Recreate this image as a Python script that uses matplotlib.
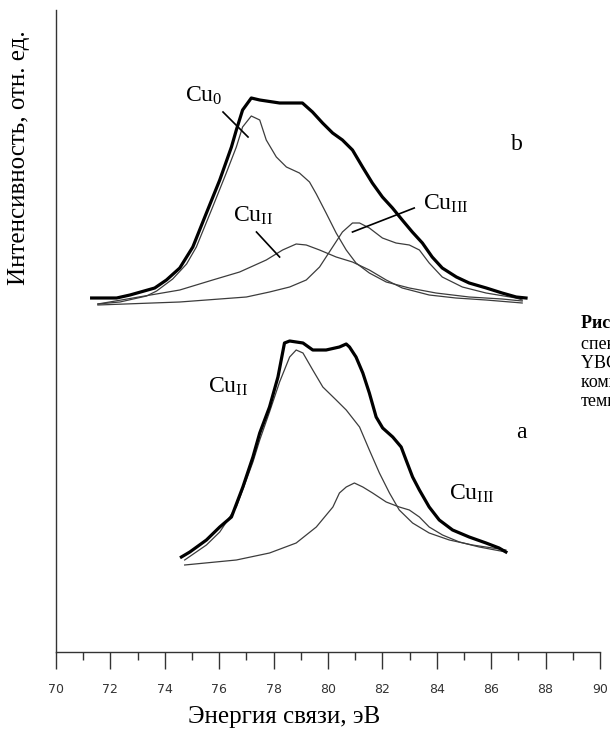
import numpy as np
import matplotlib.pyplot as plt

plt.rcParams['font.family'] = ['Liberation Serif', 'DejaVu Serif']
plt.rcParams['mathtext.fontset'] = 'custom'
plt.rcParams['mathtext.rm'] = 'Liberation Serif'
plt.rcParams['mathtext.it'] = 'Liberation Serif:italic'

# Spectrum b: envelope and fitted components (binding energy, eV / intensity, arb. units)
e_b_total = [71.31, 72.23, 72.72, 73.63, 74.06, 74.55, 75.03, 75.53, 76.02, 76.45, 76.63, 76.86,
             77.18, 77.49, 78.22, 79.06, 79.43, 79.80, 80.17, 80.53, 80.90, 81.27, 81.63, 82.00,
             82.37, 82.73, 83.10, 83.47, 83.83, 84.20, 84.72, 85.19, 85.82, 86.40, 86.92, 87.28]
i_b_total = [354, 354, 357, 364, 372, 384, 405, 439, 472, 505, 522, 542,
             554, 552, 549, 549, 540, 529, 519, 512, 502, 485, 469, 455,
             444, 432, 420, 409, 395, 384, 375, 369, 364, 359, 355, 354]

e_b_cu0 = [71.54, 72.35, 73.33, 73.70, 74.29, 74.80, 75.16, 75.76, 76.26, 76.63, 76.86, 77.18,
           77.49, 77.73, 78.10, 78.47, 78.95, 79.32, 79.57, 79.93, 80.30, 80.67, 81.03, 81.52,
           82.14, 82.99, 83.97, 85.19, 86.40, 87.14]
i_b_cu0 = [348, 350, 356, 361, 373, 388, 405, 445, 479, 505, 525, 536,
           532, 512, 495, 485, 479, 470, 458, 439, 419, 402, 389, 379,
           370, 364, 359, 355, 353, 351]

e_b_cu2 = [71.54, 74.55, 75.76, 76.75, 77.73, 78.33, 78.83, 79.20, 79.69, 80.30, 80.90, 81.52,
           82.14, 82.73, 83.72, 84.70, 85.81, 87.14]
i_b_cu2 = [348, 362, 372, 380, 392, 402, 408, 407, 402, 395, 390, 382,
           372, 364, 357, 354, 352, 349]

e_b_cu3 = [71.54, 74.55, 77.00, 77.85, 78.59, 79.20, 79.69, 80.17, 80.53, 80.90, 81.16, 81.52,
           82.00, 82.50, 82.99, 83.36, 83.72, 84.20, 84.94, 85.81, 86.91, 87.14]
i_b_cu3 = [347, 350, 355, 360, 365, 372, 385, 405, 420, 429, 429, 424,
           414, 409, 407, 402, 389, 375, 365, 359, 354, 352]

# Spectrum a
e_a_total = [74.61, 74.92, 75.53, 76.02, 76.45, 76.87, 77.24, 77.49, 77.85, 78.16, 78.40, 78.59,
             79.08, 79.44, 79.93, 80.42, 80.67, 80.79, 81.03, 81.28, 81.52, 81.77, 82.01, 82.38,
             82.69, 82.87, 83.11, 83.36, 83.72, 84.09, 84.58, 85.19, 85.81, 86.29, 86.54]
i_a_total = [95, 100, 112, 125, 135, 165, 195, 219, 245, 275, 309, 311,
             309, 302, 302, 305, 308, 305, 295, 279, 259, 235, 224, 215,
             205, 192, 175, 162, 145, 132, 122, 115, 109, 104, 100]

e_a_cu2 = [74.73, 75.53, 76.02, 76.63, 77.24, 77.49, 77.85, 78.22, 78.59, 78.83, 79.08, 79.44,
           79.81, 80.30, 80.67, 81.16, 81.52, 81.89, 82.26, 82.62, 83.11, 83.72, 84.46, 85.31,
           86.05, 86.54]
i_a_cu2 = [92, 107, 120, 145, 190, 212, 240, 270, 295, 302, 299, 282,
           265, 252, 242, 225, 202, 179, 159, 142, 129, 119, 112, 107,
           104, 102]

e_a_cu3 = [74.73, 76.63, 77.85, 78.83, 79.57, 80.18, 80.42, 80.67, 80.97, 81.28, 81.64, 82.14,
           82.62, 82.99, 83.36, 83.72, 84.21, 84.83, 85.56, 86.54]
i_a_cu3 = [87, 92, 99, 109, 125, 145, 159, 165, 169, 165, 159, 150,
           145, 142, 135, 125, 117, 110, 105, 100]

x_ticks = np.arange(70, 91, 2)

fig = plt.figure(figsize=(6.1, 7.3), dpi=100)
ax = fig.add_axes([56 / 610, 78 / 730, 544 / 610, 642 / 730])

thin = dict(color='#3c3c3c', lw=0.9)
thick = dict(color='black', lw=2.3, solid_joinstyle='round')

ax.plot(e_b_cu0, i_b_cu0, **thin)
ax.plot(e_b_cu2, i_b_cu2, **thin)
ax.plot(e_b_cu3, i_b_cu3, **thin)
ax.plot(e_b_total, i_b_total, **thick)

ax.plot(e_a_cu2, i_a_cu2, **thin)
ax.plot(e_a_cu3, i_a_cu3, **thin)
ax.plot(e_a_total, i_a_total, **thick)

# leader lines from labels to components
lead = dict(color='black', lw=1.2)
ax.plot([76.14, 77.06], [540, 515], **lead)
ax.plot([77.37, 78.22], [420, 395], **lead)
ax.plot([80.90, 83.17], [420, 444], **lead)

fs = 17
ax.text(74.73, 550, r'Cu$_{\mathrm{0}}$', fontsize=fs)
ax.text(76.51, 430, r'Cu$_{\mathrm{II}}$', fontsize=fs)
ax.text(83.50, 442, r'Cu$_{\mathrm{III}}$', fontsize=fs)
ax.text(86.72, 502, 'b', fontsize=fs)
ax.text(75.59, 259, r'Cu$_{\mathrm{II}}$', fontsize=fs)
ax.text(84.46, 152, r'Cu$_{\mathrm{III}}$', fontsize=fs)
ax.text(86.91, 214, 'a', fontsize=fs)

ax.set_xlim(70, 90)
ax.set_ylim(0, 642)
ax.set_xticks(x_ticks)
ax.set_xticks(x_ticks[:-1] + 1, minor=True)
ax.set_yticks([])
ax.tick_params(axis='x', which='major', length=12, width=1, direction='out',
               pad=10, labelsize=9, labelcolor='#333333', color='#333333')
ax.tick_params(axis='x', which='minor', length=6, width=1, direction='out', color='#333333')
for lbl in ax.get_xticklabels():
    lbl.set_fontfamily('DejaVu Sans')

for side in ('top', 'right'):
    ax.spines[side].set_visible(False)
for side in ('left', 'bottom'):
    ax.spines[side].set_color('#333333')
    ax.spines[side].set_linewidth(1.0)

ax.set_xlabel('Энергия связи, эВ', fontsize=18)
ax.xaxis.set_label_coords(0.42, -0.084)
ax.set_ylabel('Интенсивность, отн. ед.', fontsize=18)
ax.yaxis.set_label_coords(-0.048, 0.77)

# figure caption running off the right edge
caption = ['Рис. 3. Cu 3p', 'спектры образцов', 'YBCO и их разложение на',
           'компоненты при различной', 'температуре']
baselines = [328, 349, 368, 387, 406]
for k, (line, yb) in enumerate(zip(caption, baselines)):
    fig.text(581 / 610, 1 - yb / 730, line, fontsize=13, va='baseline',
             fontweight='bold' if k == 0 else 'normal')

fig.savefig('out.png', dpi=100)
